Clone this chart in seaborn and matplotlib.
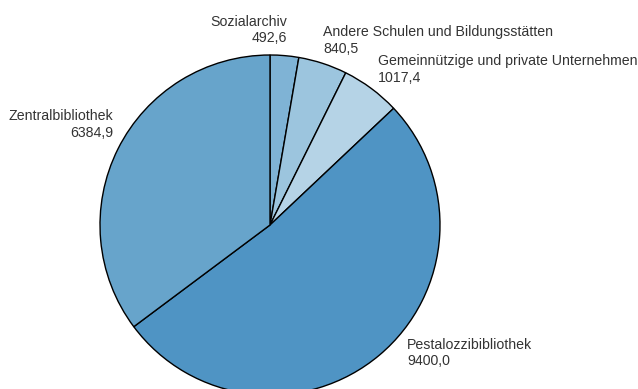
import matplotlib
matplotlib.use("Agg")
import matplotlib.pyplot as plt
import seaborn as sns

# Daten
kategorien = ["Sozialarchiv", "Andere Schulen und Bildungsstätten",
              "Gemeinnützige und private Unternehmen", "Pestalozzibibliothek",
              "Zentralbibliothek"]
werte = [492.6, 840.5, 1017.4, 9400.0, 6384.9]
farben = ["#7fb3d5", "#9cc5de", "#b5d3e6", "#4f94c4", "#67a4cb"]

# Beschriftungspositionen (x, y, Ausrichtung)
label_pos = [(0.10, 1.147, "right"), (0.312, 1.088, "left"), (0.635, 0.912, "left"),
             (0.806, -0.753, "left"), (-0.924, 0.594, "right")]

sns.set_theme(style="white")
plt.rcParams['font.family'] = ['Liberation Sans', 'DejaVu Sans']

fig = plt.figure(figsize=(6.38, 3.89), dpi=100)
ax = fig.add_axes([100/638, -6/389, 340/638, 340/389])

ax.pie(werte, colors=farben, startangle=90, counterclock=False, radius=1,
       wedgeprops=dict(edgecolor="black", linewidth=1))

for name, w, (x, y, ha) in zip(kategorien, werte, label_pos):
    txt = name + "\n" + f"{w:.1f}".replace(".", ",")
    ax.text(x, y, txt, ha=ha, va="center", multialignment=ha,
            fontsize=10.2, color="#333333", linespacing=1.27)

ax.set_xlim(-1, 1)
ax.set_ylim(-1, 1)
ax.set_aspect("equal")
ax.axis("off")

fig.savefig("out.png", dpi=100)
